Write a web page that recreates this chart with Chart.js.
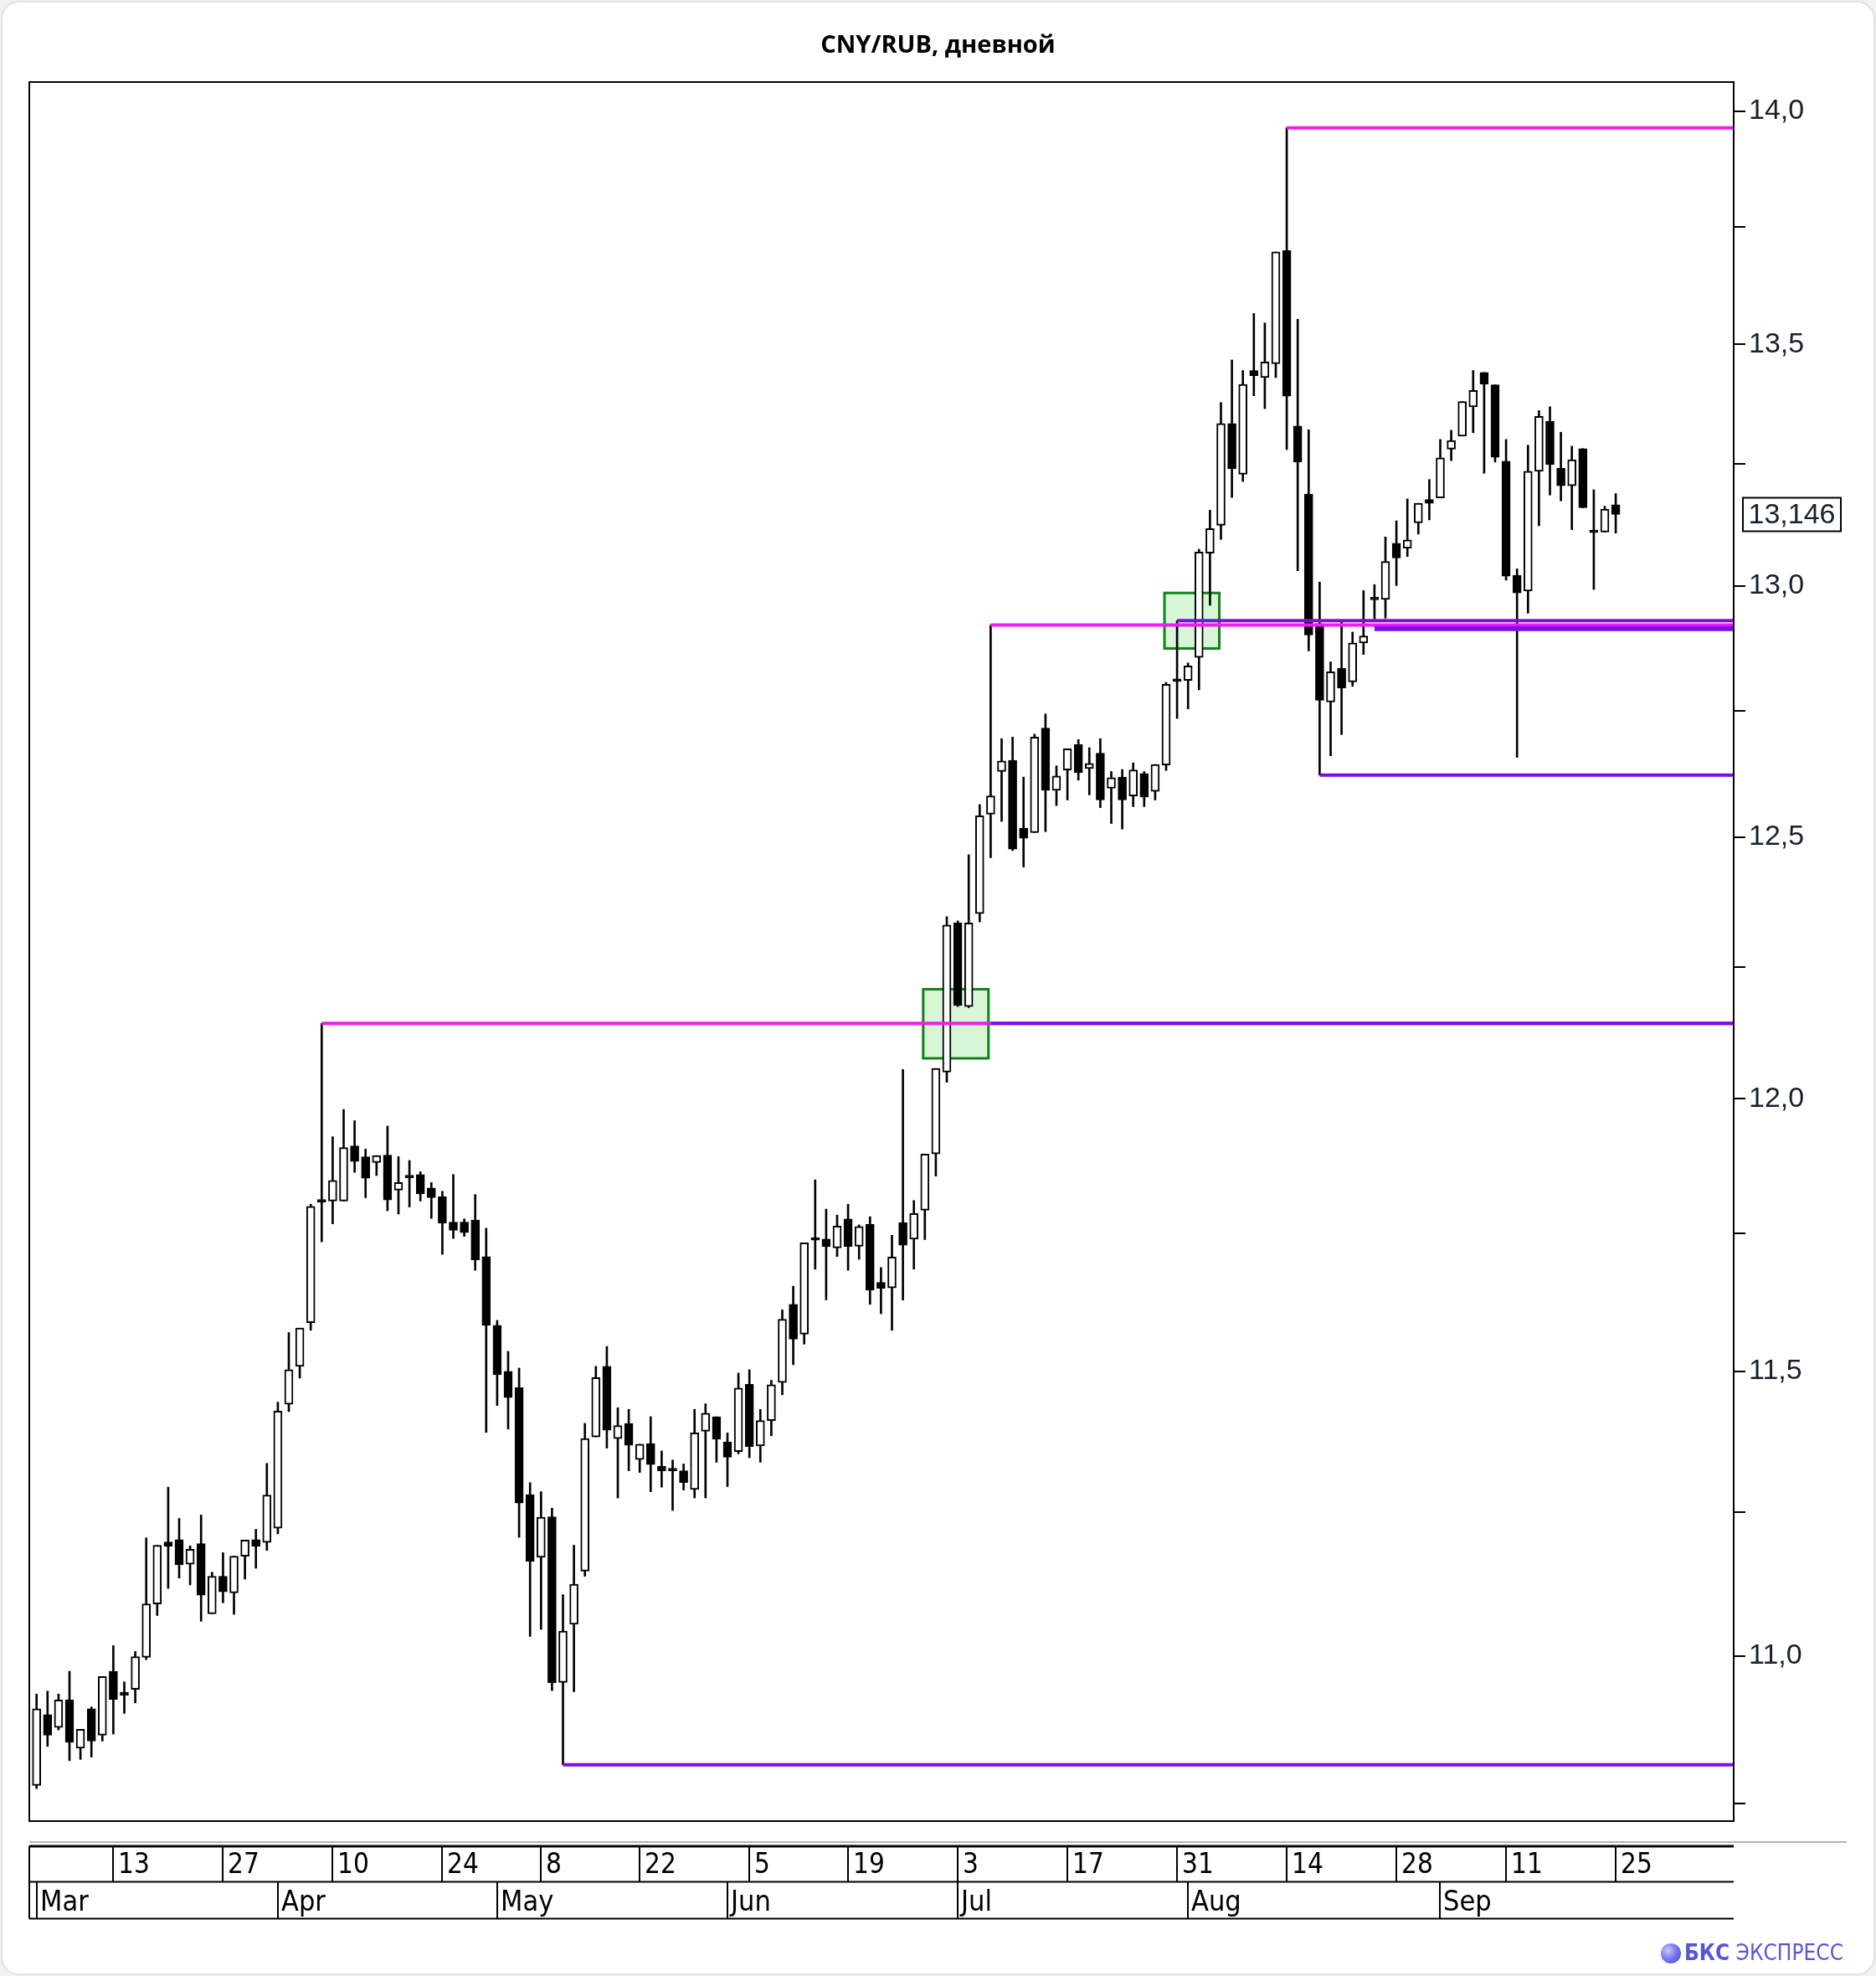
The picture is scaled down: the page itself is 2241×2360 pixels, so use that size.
<!DOCTYPE html>
<html lang="ru">
<head>
<meta charset="utf-8">
<title>CNY/RUB, дневной</title>
<script src="https://cdn.jsdelivr.net/npm/chart.js@4.4.0/dist/chart.umd.min.js"></script>
<style>
  html, body { margin: 0; padding: 0; background: #f2f2f2; }
  #card { position: absolute; left: 1px; top: 1px; width: 2235px; height: 2354px; background: #fff;
          border: 2px solid #e2e2e2; border-radius: 22px; }
  #title { position: absolute; left: 0; top: 37px; width: 2241px; text-align: center;
           font: bold 29px "Open Sans", "Noto Sans", sans-serif; line-height: 1; color: #000; }
  #logo { position: absolute; left: 1984px; top: 2317px; height: 30px; white-space: nowrap;
          font: 26px "Liberation Sans Narrow", "DejaVu Sans Condensed", sans-serif; color: #5856d6; line-height: 30px; }
  #logo i { display: inline-block; width: 24px; height: 24px; border-radius: 50%; vertical-align: -4px; margin-right: 4px;
            background: radial-gradient(circle at 35% 35%, #c9c8ff 0%, #7b79ee 45%, #4744c4 100%); }
  #logo b { font-weight: bold; }
  canvas { position: absolute; left: 0; top: 0; }
</style>
</head>
<body>
<div id="card"></div>
<canvas id="grafico" width="2241" height="2360"></canvas>
<div id="title">CNY/RUB, дневной</div>
<div id="logo"><i></i><b>БКС</b> ЭКСПРЕСС</div>
<script>
// свечи с 1 марта (индекс 0) по 25 сентября (индекс 144)
const openP = [10.78, 10.90, 10.878, 10.925, 10.843, 10.91, 10.865, 10.974, 10.938, 10.943,
  10.998, 11.09, 11.198, 11.202, 11.159, 11.195, 11.073, 11.138, 11.109, 11.173,
  11.202, 11.197, 11.222, 11.441, 11.509, 11.588, 11.81, 11.81, 11.81, 11.912,
  11.892, 11.881, 11.895, 11.83, 11.855, 11.859, 11.834, 11.818, 11.771, 11.771,
  11.775, 11.708, 11.583, 11.5, 11.471, 11.281, 11.171, 11.242, 10.955, 11.055,
  11.147, 11.383, 11.509, 11.38, 11.407, 11.343, 11.371, 11.331, 11.325, 11.323,
  11.29, 11.393, 11.419, 11.374, 11.357, 11.477, 11.367, 11.412, 11.48, 11.621,
  11.567, 11.74, 11.74, 11.724, 11.777, 11.727, 11.767, 11.661, 11.651, 11.77,
  11.74, 11.793, 11.897, 12.05, 12.334, 12.174, 12.352, 12.545, 12.629, 12.651,
  12.518, 12.509, 12.715, 12.592, 12.632, 12.682, 12.635, 12.665, 12.596, 12.618,
  12.581, 12.625, 12.59, 12.642, 12.812, 12.81, 12.856, 13.067, 13.124, 13.334,
  13.229, 13.445, 13.43, 13.459, 13.699, 13.329, 13.188, 12.924, 12.767, 12.834,
  12.807, 12.885, 12.975, 12.973, 13.087, 13.077, 13.129, 13.177, 13.18, 13.281,
  13.308, 13.369, 13.441, 13.415, 13.256, 13.022, 12.99, 13.235, 13.339, 13.241,
  13.205, 13.282, 13.112, 13.11, 13.166];
const highP = [10.935, 10.94, 10.935, 10.974, 10.875, 10.913, 10.965, 11.018, 10.956, 11.008,
  11.205, 11.192, 11.294, 11.239, 11.191, 11.245, 11.145, 11.179, 11.173, 11.201,
  11.22, 11.336, 11.445, 11.57, 11.578, 11.804, 12.142, 11.929, 11.98, 11.959,
  11.906, 11.894, 11.949, 11.892, 11.885, 11.864, 11.844, 11.828, 11.859, 11.777,
  11.822, 11.76, 11.592, 11.536, 11.506, 11.302, 11.286, 11.257, 11.106, 11.192,
  11.407, 11.509, 11.545, 11.435, 11.432, 11.37, 11.419, 11.358, 11.342, 11.335,
  11.432, 11.442, 11.419, 11.39, 11.497, 11.503, 11.432, 11.484, 11.611, 11.654,
  11.733, 11.849, 11.795, 11.784, 11.804, 11.766, 11.781, 11.688, 11.747, 12.055,
  11.811, 11.897, 12.057, 12.346, 12.338, 12.466, 12.564, 12.921, 12.694, 12.697,
  12.618, 12.703, 12.743, 12.64, 12.674, 12.692, 12.676, 12.694, 12.629, 12.633,
  12.646, 12.629, 12.643, 12.806, 12.93, 12.845, 13.075, 13.155, 13.378, 13.467,
  13.445, 13.565, 13.545, 13.696, 13.964, 13.553, 13.321, 13.008, 12.847, 12.927,
  12.907, 12.991, 13.003, 13.1, 13.133, 13.178, 13.169, 13.218, 13.301, 13.32,
  13.38, 13.445, 13.441, 13.415, 13.301, 13.035, 13.289, 13.361, 13.369, 13.316,
  13.287, 13.282, 13.197, 13.163, 13.189];
const lowP = [10.775, 10.846, 10.874, 10.822, 10.824, 10.828, 10.855, 10.867, 10.902, 10.92,
  10.994, 11.07, 11.117, 11.135, 11.123, 11.06, 11.073, 11.092, 11.072, 11.133,
  11.152, 11.183, 11.212, 11.428, 11.488, 11.574, 11.735, 11.768, 11.81, 11.863,
  11.816, 11.857, 11.792, 11.786, 11.799, 11.81, 11.778, 11.712, 11.741, 11.745,
  11.683, 11.391, 11.439, 11.397, 11.206, 11.034, 11.046, 10.941, 10.815, 10.939,
  11.138, 11.383, 11.363, 11.275, 11.323, 11.32, 11.286, 11.294, 11.253, 11.289,
  11.275, 11.275, 11.338, 11.295, 11.353, 11.346, 11.338, 11.385, 11.458, 11.512,
  11.549, 11.685, 11.629, 11.708, 11.683, 11.703, 11.621, 11.604, 11.574, 11.629,
  11.685, 11.739, 11.856, 12.031, 12.174, 12.172, 12.336, 12.46, 12.531, 12.474,
  12.442, 12.509, 12.511, 12.562, 12.573, 12.612, 12.583, 12.558, 12.527, 12.516,
  12.56, 12.56, 12.573, 12.631, 12.734, 12.753, 12.791, 12.961, 13.095, 13.181,
  13.214, 13.392, 13.365, 13.43, 13.28, 13.031, 12.869, 12.622, 12.66, 12.702,
  12.798, 12.862, 12.93, 12.935, 13.001, 13.06, 13.106, 13.135, 13.18, 13.257,
  13.308, 13.315, 13.231, 13.254, 13.012, 12.657, 12.945, 13.123, 13.186, 13.174,
  13.115, 13.16, 12.993, 13.11, 13.108];
const closeP = [10.91, 10.865, 10.925, 10.853, 10.875, 10.855, 10.965, 10.926, 10.933, 10.999,
  11.09, 11.192, 11.19, 11.158, 11.185, 11.105, 11.138, 11.111, 11.173, 11.201,
  11.19, 11.28, 11.429, 11.503, 11.578, 11.80, 11.808, 11.848, 11.909, 11.883,
  11.852, 11.894, 11.812, 11.844, 11.853, 11.823, 11.816, 11.769, 11.756, 11.752,
  11.702, 11.583, 11.494, 11.453, 11.266, 11.164, 11.241, 10.954, 11.043, 11.124,
  11.38, 11.489, 11.395, 11.403, 11.368, 11.37, 11.334, 11.323, 11.323, 11.302,
  11.39, 11.425, 11.379, 11.347, 11.47, 11.366, 11.412, 11.476, 11.594, 11.558,
  11.733, 11.738, 11.726, 11.764, 11.726, 11.763, 11.647, 11.65, 11.707, 11.729,
  11.787, 11.897, 12.057, 12.33, 12.176, 12.334, 12.542, 12.581, 12.65, 12.477,
  12.498, 12.697, 12.592, 12.62, 12.674, 12.627, 12.645, 12.573, 12.617, 12.573,
  12.632, 12.579, 12.643, 12.802, 12.808, 12.839, 13.069, 13.117, 13.334, 13.24,
  13.416, 13.434, 13.463, 13.696, 13.391, 13.254, 12.901, 12.77, 12.827, 12.795,
  12.885, 12.899, 12.972, 13.05, 13.057, 13.094, 13.169, 13.169, 13.263, 13.299,
  13.38, 13.403, 13.416, 13.264, 13.02, 12.986, 13.235, 13.349, 13.249, 13.205,
  13.259, 13.16, 13.109, 13.157, 13.146];

// подписи оси дат
const dayTickIdx  = [7, 17, 27, 37, 46, 55, 65, 74, 84, 94, 104, 114, 124, 134, 144];
const dayTickText = ['13', '27', '10', '24', '8', '22', '5', '19', '3', '17', '31', '14', '28', '11', '25'];
const monthIdx  = [0, 22, 42, 63, 84, 105, 128];
const monthText = ['Mar', 'Apr', 'May', 'Jun', 'Jul', 'Aug', 'Sep'];

// ось цен
const yTickVals  = [10.75, 11, 11.25, 11.5, 11.75, 12, 12.25, 12.5, 12.75, 13, 13.25, 13.5, 13.75, 14];
const yLabelVals = [11, 11.5, 12, 12.5, 13, 13.5, 14];

// уровни: сопротивление (пурпурные) и поддержка (фиолетовые), от свечи и до конца
const resFrom  = [26, 87, 114];
const resLevel = [12.142, 12.921, 13.964];
const supFrom  = [48, 87, 104, 117];
const supLevel = [10.815, 12.142, 12.930, 12.622];
const bandFrom = [122];
const bandLevel = [12.914];

// зелёные зоны
const zoneFrom = [80.85, 102.85];
const zoneTo   = [86.8, 107.85];
const zoneLow  = [12.076, 12.874];
const zoneHigh = [12.207, 12.986];

const xMin = -0.664, xMax = 154.756;
const yMin = 10.7203, yMax = 14.0642;
const lastPrice = closeP[closeP.length - 1];

const fmt = (v, d) => v.toFixed(d).replace('.', ',');
const axisFont = '"Liberation Sans", Arial, sans-serif';
const narrowFont = '"Liberation Sans Narrow", "DejaVu Sans Condensed", sans-serif';

const wicks = openP.map((o, i) => ({ x: i, y: [lowP[i], highP[i]] }));
const bodies = openP.map((o, i) => ({ x: i, y: [Math.min(o, closeP[i]), Math.max(o, closeP[i])] }));
const bodyColors = openP.map((o, i) => closeP[i] > o ? '#ffffff' : '#000000');

function hline(from, level, color, width, order) {
  return {
    type: 'line', data: [{ x: from, y: level }, { x: xMax, y: level }],
    borderColor: color, borderWidth: width, pointRadius: 0, order, tension: 0
  };
}

// фиолетовые поверх пурпурных
const lineSets = [];
supFrom.forEach((f, i) => lineSets.push(hline(f, supLevel[i], '#7c0cec', 4, 0)));
bandFrom.forEach((f, i) => lineSets.push(hline(f, bandLevel[i], '#7c0cec', 6, 0)));
resFrom.forEach((f, i) => lineSets.push(hline(f, resLevel[i], '#ee1cee', 4, 0.5)));

const decor = {
  id: 'decor',
  beforeDatasetsDraw(chart) {
    const { ctx, scales: { x, y } } = chart;
    ctx.save();
    zoneFrom.forEach((f, i) => {
      const x1 = x.getPixelForValue(f), x2 = x.getPixelForValue(zoneTo[i]);
      const y1 = y.getPixelForValue(zoneHigh[i]), y2 = y.getPixelForValue(zoneLow[i]);
      ctx.fillStyle = '#d6f6d6';
      ctx.fillRect(x1, y1, x2 - x1, y2 - y1);
      ctx.strokeStyle = '#14801a';
      ctx.lineWidth = 3;
      ctx.strokeRect(x1, y1, x2 - x1, y2 - y1);
    });
    ctx.restore();
  },
  afterDraw(chart) {
    const { ctx, chartArea: a, scales: { x, y } } = chart;
    ctx.save();
    // рамка графика
    ctx.strokeStyle = '#000';
    ctx.lineWidth = 2;
    ctx.strokeRect(a.left, a.top, a.right - a.left, a.bottom - a.top);

    // метка последней цены
    const py = y.getPixelForValue(lastPrice);
    ctx.fillStyle = '#fff';
    ctx.fillRect(a.right + 11, py - 20, 117, 40);
    ctx.lineWidth = 2;
    ctx.strokeRect(a.right + 11, py - 20, 117, 40);
    ctx.fillStyle = '#17202c';
    ctx.font = '34px ' + axisFont;
    ctx.textBaseline = 'middle';
    ctx.textAlign = 'center';
    ctx.fillText(fmt(lastPrice, 3), a.right + 69.5, py + 1);

    // ось дат: две строки
    const top = 2205, mid = 2247.5, bot = 2291.5;
    ctx.strokeStyle = '#b5b5b5';
    ctx.lineWidth = 2;
    ctx.beginPath(); ctx.moveTo(a.left, 2200); ctx.lineTo(2206, 2200); ctx.stroke();
    ctx.strokeStyle = '#000';
    ctx.lineWidth = 3;
    ctx.beginPath(); ctx.moveTo(a.left, top); ctx.lineTo(a.right, top); ctx.stroke();
    ctx.lineWidth = 2;
    ctx.beginPath();
    ctx.moveTo(a.left, mid); ctx.lineTo(a.right, mid);
    ctx.moveTo(a.left, bot); ctx.lineTo(a.right, bot);
    ctx.moveTo(a.left, top); ctx.lineTo(a.left, bot);
    dayTickIdx.forEach(d => {
      const px = Math.round(x.getPixelForValue(d));
      ctx.moveTo(px, top); ctx.lineTo(px, mid);
    });
    monthIdx.forEach(m => {
      const px = Math.round(x.getPixelForValue(m));
      ctx.moveTo(px, mid); ctx.lineTo(px, bot);
    });
    ctx.stroke();

    ctx.fillStyle = '#000';
    ctx.textAlign = 'left';
    ctx.textBaseline = 'alphabetic';
    ctx.font = '33px ' + narrowFont;
    dayTickIdx.forEach((d, i) => ctx.fillText(dayTickText[i], Math.round(x.getPixelForValue(d)) + 6, 2237));
    ctx.font = '34px ' + narrowFont;
    monthIdx.forEach((m, i) => ctx.fillText(monthText[i], Math.round(x.getPixelForValue(m)) + 4, 2282));
    ctx.restore();
  }
};

new Chart(document.getElementById('grafico'), {
  type: 'bar',
  data: {
    datasets: [
      ...lineSets,
      { type: 'bar', data: bodies, backgroundColor: bodyColors, borderColor: '#000', borderWidth: 2,
        borderSkipped: false, barThickness: 10, minBarLength: 3, grouped: false, order: 1 },
      { type: 'bar', data: wicks, backgroundColor: '#000', borderWidth: 0,
        barThickness: 2, grouped: false, order: 2 }
    ]
  },
  options: {
    responsive: false,
    animation: false,
    events: [],
    layout: { padding: { left: 35, top: 98, right: 0, bottom: 185 } },
    plugins: { legend: { display: false }, tooltip: { enabled: false } },
    scales: {
      x: { type: 'linear', min: xMin, max: xMax, display: false, offset: false },
      y: {
        type: 'logarithmic', position: 'right', min: yMin, max: yMax, bounds: 'data',
        afterBuildTicks: s => { s.ticks = yTickVals.map(v => ({ value: v })); },
        afterFit: s => { s.width = 170; },
        ticks: {
          autoSkip: false, padding: 4, color: '#17202c',
          font: { family: axisFont, size: 34 },
          callback: v => yLabelVals.includes(v) ? fmt(v, 1) : ''
        },
        grid: { drawOnChartArea: false, drawTicks: true, tickLength: 14, color: '#000', lineWidth: 2 },
        border: { display: true, color: '#000', width: 2 }
      }
    }
  },
  plugins: [decor]
});
</script>
</body>
</html>
